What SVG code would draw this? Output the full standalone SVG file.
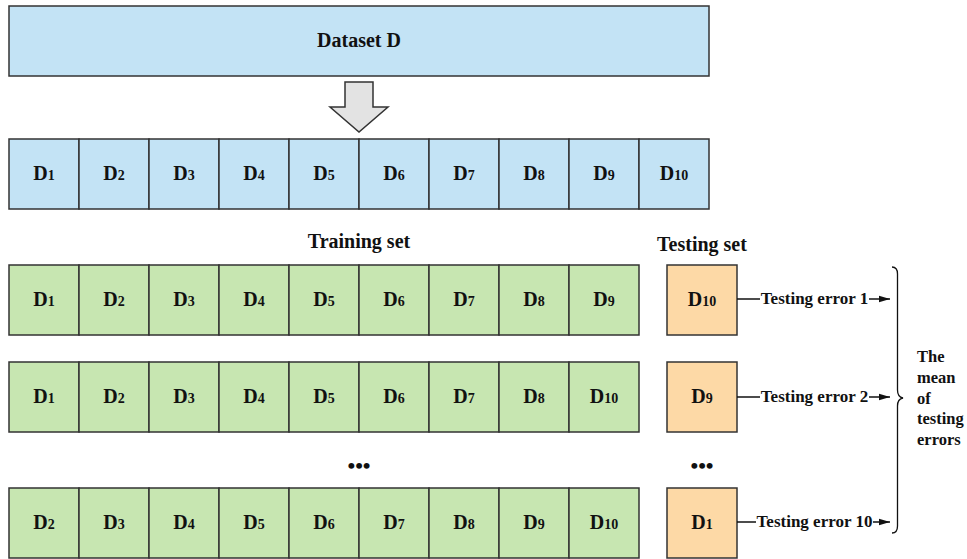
<svg xmlns="http://www.w3.org/2000/svg" width="967" height="559" viewBox="0 0 967 559">
<style>
text{font-family:"Liberation Serif","Times New Roman",serif;font-weight:bold;fill:#111}
.blue{fill:#C3E3F5;stroke:#333;stroke-width:1.5}
.green{fill:#C7E6B1;stroke:#333;stroke-width:1.5}
.orange{fill:#FDD9A6;stroke:#333;stroke-width:1.5}
.lbl{font-size:20px;text-anchor:middle}
.sub{font-size:14px}
.dots{font-size:22px;text-anchor:middle}
.err{font-size:17px;text-anchor:middle}
.mean{font-size:16.5px}
.conn{stroke:#111;stroke-width:1.3;fill:none}
</style>
<defs>
<marker id="ah" markerWidth="11" markerHeight="8" refX="11" refY="4" orient="auto" markerUnits="userSpaceOnUse">
<path d="M0,0.7 L11,4 L0,7.3 Z" fill="#111"/>
</marker>
</defs>
<rect width="967" height="559" fill="#fff"/>

<g id="dataset"><rect class="blue" x="9" y="6" width="700" height="70"/><text class="lbl" x="359" y="47">Dataset D</text></g>

<g id="split-arrow"><path d="M345,82 H373 V107 H388 L359,132 L330,107 H345 Z" fill="#E3E3E3" stroke="#333" stroke-width="1.5"/></g>

<g id="row-all">
<g id="a1"><rect class="blue" x="9" y="139" width="70" height="70"/><text class="lbl" x="44" y="180">D<tspan class="sub">1</tspan></text></g>
<g id="a2"><rect class="blue" x="79" y="139" width="70" height="70"/><text class="lbl" x="114" y="180">D<tspan class="sub">2</tspan></text></g>
<g id="a3"><rect class="blue" x="149" y="139" width="70" height="70"/><text class="lbl" x="184" y="180">D<tspan class="sub">3</tspan></text></g>
<g id="a4"><rect class="blue" x="219" y="139" width="70" height="70"/><text class="lbl" x="254" y="180">D<tspan class="sub">4</tspan></text></g>
<g id="a5"><rect class="blue" x="289" y="139" width="70" height="70"/><text class="lbl" x="324" y="180">D<tspan class="sub">5</tspan></text></g>
<g id="a6"><rect class="blue" x="359" y="139" width="70" height="70"/><text class="lbl" x="394" y="180">D<tspan class="sub">6</tspan></text></g>
<g id="a7"><rect class="blue" x="429" y="139" width="70" height="70"/><text class="lbl" x="464" y="180">D<tspan class="sub">7</tspan></text></g>
<g id="a8"><rect class="blue" x="499" y="139" width="70" height="70"/><text class="lbl" x="534" y="180">D<tspan class="sub">8</tspan></text></g>
<g id="a9"><rect class="blue" x="569" y="139" width="70" height="70"/><text class="lbl" x="604" y="180">D<tspan class="sub">9</tspan></text></g>
<g id="a10"><rect class="blue" x="639" y="139" width="70" height="70"/><text class="lbl" x="674" y="180">D<tspan class="sub">10</tspan></text></g>
</g>

<text class="lbl" x="359" y="248">Training set</text>
<text class="lbl" x="702" y="251">Testing set</text>

<g id="row1">
<g id="r1c1"><rect class="green" x="9" y="265" width="70" height="70"/><text class="lbl" x="44" y="306">D<tspan class="sub">1</tspan></text></g>
<g id="r1c2"><rect class="green" x="79" y="265" width="70" height="70"/><text class="lbl" x="114" y="306">D<tspan class="sub">2</tspan></text></g>
<g id="r1c3"><rect class="green" x="149" y="265" width="70" height="70"/><text class="lbl" x="184" y="306">D<tspan class="sub">3</tspan></text></g>
<g id="r1c4"><rect class="green" x="219" y="265" width="70" height="70"/><text class="lbl" x="254" y="306">D<tspan class="sub">4</tspan></text></g>
<g id="r1c5"><rect class="green" x="289" y="265" width="70" height="70"/><text class="lbl" x="324" y="306">D<tspan class="sub">5</tspan></text></g>
<g id="r1c6"><rect class="green" x="359" y="265" width="70" height="70"/><text class="lbl" x="394" y="306">D<tspan class="sub">6</tspan></text></g>
<g id="r1c7"><rect class="green" x="429" y="265" width="70" height="70"/><text class="lbl" x="464" y="306">D<tspan class="sub">7</tspan></text></g>
<g id="r1c8"><rect class="green" x="499" y="265" width="70" height="70"/><text class="lbl" x="534" y="306">D<tspan class="sub">8</tspan></text></g>
<g id="r1c9"><rect class="green" x="569" y="265" width="70" height="70"/><text class="lbl" x="604" y="306">D<tspan class="sub">9</tspan></text></g>
<g id="r1test"><rect class="orange" x="667" y="265" width="70" height="70"/><text class="lbl" x="702" y="306">D<tspan class="sub">10</tspan></text></g>
</g>

<g id="row2">
<g id="r2c1"><rect class="green" x="9" y="362" width="70" height="70"/><text class="lbl" x="44" y="403">D<tspan class="sub">1</tspan></text></g>
<g id="r2c2"><rect class="green" x="79" y="362" width="70" height="70"/><text class="lbl" x="114" y="403">D<tspan class="sub">2</tspan></text></g>
<g id="r2c3"><rect class="green" x="149" y="362" width="70" height="70"/><text class="lbl" x="184" y="403">D<tspan class="sub">3</tspan></text></g>
<g id="r2c4"><rect class="green" x="219" y="362" width="70" height="70"/><text class="lbl" x="254" y="403">D<tspan class="sub">4</tspan></text></g>
<g id="r2c5"><rect class="green" x="289" y="362" width="70" height="70"/><text class="lbl" x="324" y="403">D<tspan class="sub">5</tspan></text></g>
<g id="r2c6"><rect class="green" x="359" y="362" width="70" height="70"/><text class="lbl" x="394" y="403">D<tspan class="sub">6</tspan></text></g>
<g id="r2c7"><rect class="green" x="429" y="362" width="70" height="70"/><text class="lbl" x="464" y="403">D<tspan class="sub">7</tspan></text></g>
<g id="r2c8"><rect class="green" x="499" y="362" width="70" height="70"/><text class="lbl" x="534" y="403">D<tspan class="sub">8</tspan></text></g>
<g id="r2c9"><rect class="green" x="569" y="362" width="70" height="70"/><text class="lbl" x="604" y="403">D<tspan class="sub">10</tspan></text></g>
<g id="r2test"><rect class="orange" x="667" y="362" width="70" height="70"/><text class="lbl" x="702" y="403">D<tspan class="sub">9</tspan></text></g>
</g>

<text class="dots" x="359" y="473">•••</text>
<text class="dots" x="702" y="473">•••</text>

<g id="row10">
<g id="r10c1"><rect class="green" x="9" y="488" width="70" height="70"/><text class="lbl" x="44" y="529">D<tspan class="sub">2</tspan></text></g>
<g id="r10c2"><rect class="green" x="79" y="488" width="70" height="70"/><text class="lbl" x="114" y="529">D<tspan class="sub">3</tspan></text></g>
<g id="r10c3"><rect class="green" x="149" y="488" width="70" height="70"/><text class="lbl" x="184" y="529">D<tspan class="sub">4</tspan></text></g>
<g id="r10c4"><rect class="green" x="219" y="488" width="70" height="70"/><text class="lbl" x="254" y="529">D<tspan class="sub">5</tspan></text></g>
<g id="r10c5"><rect class="green" x="289" y="488" width="70" height="70"/><text class="lbl" x="324" y="529">D<tspan class="sub">6</tspan></text></g>
<g id="r10c6"><rect class="green" x="359" y="488" width="70" height="70"/><text class="lbl" x="394" y="529">D<tspan class="sub">7</tspan></text></g>
<g id="r10c7"><rect class="green" x="429" y="488" width="70" height="70"/><text class="lbl" x="464" y="529">D<tspan class="sub">8</tspan></text></g>
<g id="r10c8"><rect class="green" x="499" y="488" width="70" height="70"/><text class="lbl" x="534" y="529">D<tspan class="sub">9</tspan></text></g>
<g id="r10c9"><rect class="green" x="569" y="488" width="70" height="70"/><text class="lbl" x="604" y="529">D<tspan class="sub">10</tspan></text></g>
<g id="r10test"><rect class="orange" x="667" y="488" width="70" height="70"/><text class="lbl" x="702" y="529">D<tspan class="sub">1</tspan></text></g>
</g>

<g id="connectors">
<path class="conn" d="M737,299 H890" marker-end="url(#ah)"/>
<rect x="760" y="288" width="109" height="20" fill="#fff"/>
<text class="err" x="814.5" y="304">Testing error 1</text>
<path class="conn" d="M737,397 H890" marker-end="url(#ah)"/>
<rect x="760" y="386" width="109" height="20" fill="#fff"/>
<text class="err" x="814.5" y="402">Testing error 2</text>
<path class="conn" d="M737,522 H890" marker-end="url(#ah)"/>
<rect x="756" y="511" width="117" height="20" fill="#fff"/>
<text class="err" x="814.5" y="527">Testing error 10</text>
<path class="conn" d="M892,267 Q897.5,267 897.5,274 V390 Q897.5,397 903,398 Q897.5,399 897.5,406 V526 Q897.5,533 892,533"/>
</g>

<g id="mean">
<text class="mean" x="917" y="362">The</text>
<text class="mean" x="917" y="383">mean</text>
<text class="mean" x="917" y="403.5">of</text>
<text class="mean" x="917" y="424">testing</text>
<text class="mean" x="917" y="445">errors</text>
</g>
</svg>
